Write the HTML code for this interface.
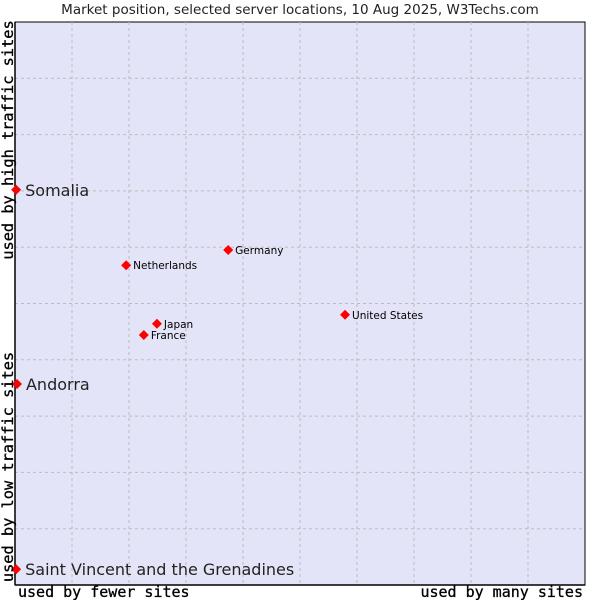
<!DOCTYPE html>
<html><head><meta charset="utf-8"><style>
body{margin:0;background:#fff;width:600px;height:600px;overflow:hidden}
svg text{font-family:"DejaVu Sans","Liberation Sans",sans-serif}
.mono{font-family:"DejaVu Sans Mono","Liberation Mono",monospace}
</style></head><body>
<svg id="chart" width="600" height="600">
<text x="300" y="14" text-anchor="middle" font-size="13.5" fill="#222">Market position, selected server locations, 10 Aug 2025, W3Techs.com</text>
<rect x="15" y="22" width="570" height="563" fill="#e4e4f8" stroke="#000" stroke-width="1"/>
<g id="grid"></g>
<line x1="15" y1="22" x2="15" y2="585" stroke="#000" stroke-width="1.5"/>
<line x1="15" y1="585" x2="585" y2="585" stroke="#000" stroke-width="1.5"/>
<g id="marks"></g>
<text class="mono" x="18" y="597" font-size="15" fill="#000" stroke="#000" stroke-width="0.3">used by fewer sites</text>
<text class="mono" x="583" y="597" font-size="15" text-anchor="end" fill="#000" stroke="#000" stroke-width="0.3">used by many sites</text>
<text class="mono" transform="translate(13,140) rotate(-90)" font-size="15.3" text-anchor="middle" fill="#000" stroke="#000" stroke-width="0.3">used by high traffic sites</text>
<text class="mono" transform="translate(13,467) rotate(-90)" font-size="15.3" text-anchor="middle" fill="#000" stroke="#000" stroke-width="0.3">used by low traffic sites</text>
</svg>
<script>
const names=["Somalia","Andorra","Saint Vincent and the Grenadines","Netherlands","Germany","Japan","France","United States"];
const xVals=[0.2,0.35,0.2,19.5,37.4,24.9,22.6,57.9];
const yVals=[70.2,35.7,2.8,56.8,59.5,46.4,44.4,48.0];
const bigLabel=[true,true,true,false,false,false,false,false];
const L=15,R=585,T=22,B=585;
const sx=v=>L+v/100*(R-L), sy=v=>B-v/100*(B-T);
const NS="http://www.w3.org/2000/svg";
const grid=document.getElementById('grid');
for(let i=1;i<10;i++){
  let a=document.createElementNS(NS,'line');
  a.setAttribute('x1',sx(i*10));a.setAttribute('x2',sx(i*10));a.setAttribute('y1',T);a.setAttribute('y2',B);
  a.setAttribute('stroke','#bcbcbc');a.setAttribute('stroke-dasharray','3,3');
  
  
  grid.appendChild(a);
  let b=document.createElementNS(NS,'line');
  b.setAttribute('y1',sy(i*10));b.setAttribute('y2',sy(i*10));b.setAttribute('x1',L);b.setAttribute('x2',R);
  b.setAttribute('stroke','#bcbcbc');b.setAttribute('stroke-dasharray','3,3');
  
  
  grid.appendChild(b);
}
const marks=document.getElementById('marks');
names.forEach((n,i)=>{
  const x=sx(xVals[i]),y=sy(yVals[i]);
  const p=document.createElementNS(NS,'polygon');
  p.setAttribute('points',`${x},${y-5} ${x+5},${y} ${x},${y+5} ${x-5},${y}`);
  p.setAttribute('fill','#f00');
  
  
  marks.appendChild(p);
  const t=document.createElementNS(NS,'text');
  const big=bigLabel[i];
  t.setAttribute('x',x+(big?9:7));t.setAttribute('y',y+(big?6:4));
  t.setAttribute('font-size',big?16:10.5);t.setAttribute('fill',big?'#222':'#000');
  t.textContent=n;
  
  
  marks.appendChild(t);
});
</script>
</body></html>
